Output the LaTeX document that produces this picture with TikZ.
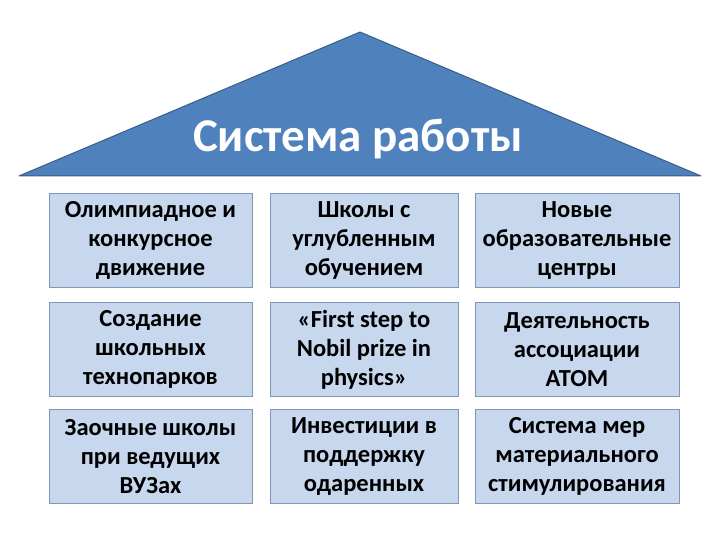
\documentclass[tikz,border=0pt]{standalone}
\usepackage{fontspec}
\setmainfont{Carlito}
\usepackage{tikz}
\usetikzlibrary{positioning}
\definecolor{roofblue}{HTML}{4F81BD}
\definecolor{roofline}{HTML}{385D8A}
\definecolor{cellfill}{HTML}{C6D7EE}
\definecolor{cellline}{HTML}{7F96B8}

\begin{document}
\begin{tikzpicture}[
    x=1pt, y=-1pt,
    font=\bfseries\fontsize{24.5}{29}\selectfont,
    node distance=14pt and 17pt,
    cell/.style={draw=cellline, fill=cellfill, line width=1pt, align=center,
                 minimum height=94pt, inner sep=2pt},
    roof/.style={draw=roofline, fill=roofblue, line width=1pt, line join=round}
]
\useasboundingbox (0,0) rectangle (720,540);
% roof
\coordinate (roofl) at (19,176);
\coordinate (roofr) at (701,176);
\coordinate (apex) at (360,32);
\draw[roof] (roofl) -- (apex) -- (roofr) -- cycle;
\node[text=white, font=\bfseries\fontsize{47}{50}\selectfont] (title) at (358,139) {Система работы};
% cells
\node[cell, minimum width=203pt] (olymp) at (150.5,240.5) {Олимпиадное и\\конкурсное\\движение};
\node[cell, minimum width=188pt, right=of olymp] (schools) {Школы с\\углубленным\\обучением};
\node[cell, minimum width=204pt, right=16pt of schools] (centres) {Новые\\образовательные\\центры};
\node[cell, minimum width=203pt, below=of olymp] (parks) {Создание\\школьных\\технопарков};
\node[cell, minimum width=188pt, below=of schools] (nobel) {«First step to\\Nobil prize in\\physics»};
\node[cell, minimum width=204pt, below=of centres] (atom) {Деятельность\\ассоциации\\АТОМ};
\node[cell, minimum width=203pt, below=12pt of parks] (distance) {Заочные школы\\при ведущих\\ВУЗах};
\node[cell, minimum width=188pt, below=12pt of nobel] (invest) {Инвестиции в\\поддержку\\одаренных};
\node[cell, minimum width=204pt, below=12pt of atom] (reward) {Система мер\\материального\\стимулирования};
\end{tikzpicture}
\end{document}
